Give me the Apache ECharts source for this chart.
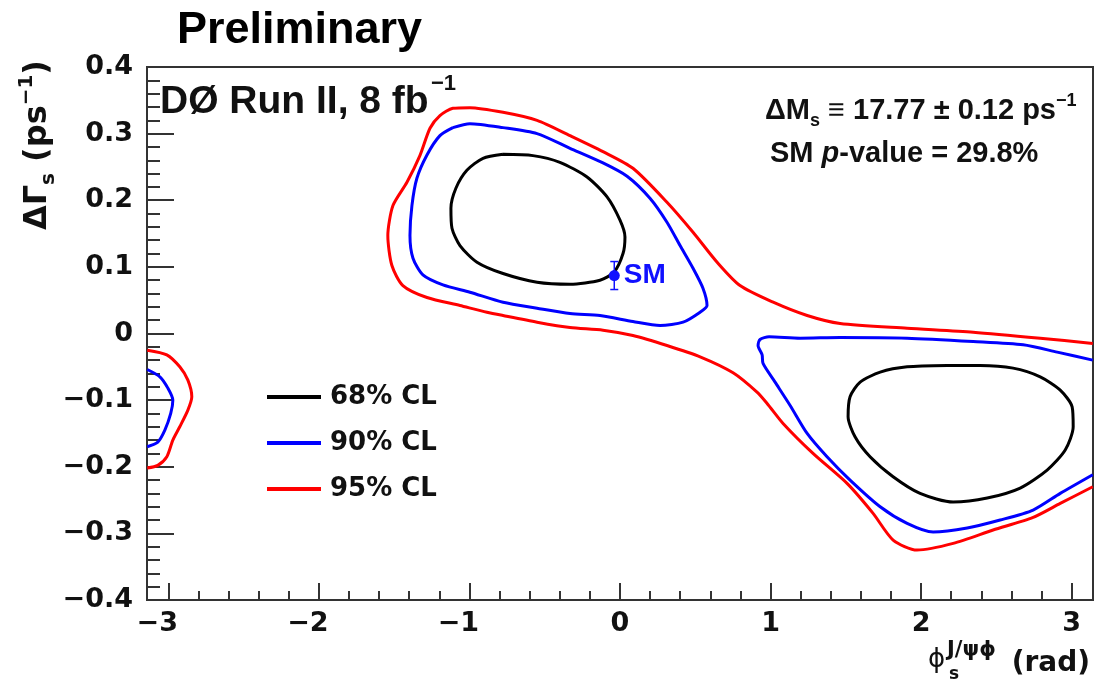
<!DOCTYPE html>
<html>
<head>
<meta charset="utf-8">
<script src="https://cdn.jsdelivr.net/npm/echarts@6/dist/echarts.min.js"></script>
<style>
  html, body { margin: 0; padding: 0; background: #ffffff; }
  #chart { width: 1094px; height: 681px; }
</style>
</head>
<body>
<div id="chart"></div>
<script>
// Confidence-level contours in the (phi_s, DeltaGamma_s) plane, points as [phi_s (rad), DeltaGamma_s (ps^-1)]
const cl68Left = [[-0.777,0.269],[-0.578,0.267],[-0.399,0.257],[-0.219,0.235],[-0.086,0.205],[0.000,0.170],[0.033,0.145],[0.020,0.120],[-0.040,0.092],[-0.133,0.080],[-0.332,0.074],[-0.551,0.077],[-0.777,0.090],[-0.950,0.107],[-1.063,0.132],[-1.116,0.158],[-1.123,0.188],[-1.090,0.218],[-1.017,0.245],[-0.910,0.263],[-0.777,0.269]];
const cl68Right = [[2.173,-0.048],[2.392,-0.048],[2.611,-0.052],[2.791,-0.065],[2.924,-0.085],[3.003,-0.110],[3.010,-0.140],[2.957,-0.175],[2.837,-0.205],[2.658,-0.232],[2.439,-0.247],[2.213,-0.253],[1.993,-0.240],[1.814,-0.215],[1.661,-0.185],[1.561,-0.155],[1.515,-0.125],[1.528,-0.095],[1.595,-0.073],[1.728,-0.058],[1.907,-0.050],[2.173,-0.048]];

const cl90Left = [[-1.110,0.309],[-0.997,0.315],[-0.777,0.309],[-0.551,0.300],[-0.332,0.278],[-0.113,0.256],[0.047,0.236],[0.199,0.203],[0.312,0.167],[0.399,0.132],[0.485,0.098],[0.551,0.068],[0.578,0.042],[0.532,0.032],[0.419,0.017],[0.266,0.012],[0.086,0.018],[-0.133,0.027],[-0.332,0.030],[-0.551,0.038],[-0.777,0.047],[-0.997,0.062],[-1.176,0.073],[-1.309,0.088],[-1.375,0.113],[-1.395,0.147],[-1.382,0.192],[-1.349,0.233],[-1.282,0.268],[-1.196,0.297],[-1.110,0.309]];
const cl90Right = [[3.140,-0.040],[2.904,-0.028],[2.678,-0.017],[2.346,-0.012],[1.907,-0.007],[1.462,-0.006],[1.196,-0.007],[0.990,-0.005],[0.930,-0.009],[0.917,-0.018],[0.944,-0.032],[0.950,-0.045],[1.030,-0.073],[1.130,-0.108],[1.243,-0.150],[1.375,-0.185],[1.528,-0.220],[1.728,-0.260],[1.907,-0.285],[2.080,-0.298],[2.306,-0.292],[2.525,-0.280],[2.744,-0.265],[2.924,-0.240],[3.140,-0.212]];
const cl90Edge = [[-3.140,-0.054],[-3.056,-0.065],[-3.003,-0.082],[-2.970,-0.100],[-2.984,-0.120],[-3.023,-0.145],[-3.070,-0.163],[-3.140,-0.170]];

const cl95Band = [[3.140,-0.015],[2.791,-0.007],[2.346,0.002],[1.907,0.008],[1.462,0.015],[1.243,0.027],[1.017,0.047],[0.797,0.072],[0.645,0.107],[0.485,0.152],[0.312,0.197],[0.086,0.248],[-0.113,0.273],[-0.332,0.297],[-0.551,0.320],[-0.777,0.332],[-0.997,0.339],[-1.110,0.338],[-1.196,0.327],[-1.262,0.308],[-1.329,0.267],[-1.415,0.227],[-1.508,0.192],[-1.542,0.147],[-1.515,0.102],[-1.442,0.072],[-1.282,0.054],[-1.063,0.042],[-0.884,0.032],[-0.777,0.027],[-0.551,0.017],[-0.332,0.009],[-0.113,0.005],[0.086,-0.003],[0.312,-0.018],[0.532,-0.035],[0.751,-0.059],[0.910,-0.088],[0.977,-0.105],[1.083,-0.135],[1.282,-0.180],[1.508,-0.225],[1.681,-0.270],[1.814,-0.310],[1.973,-0.325],[2.213,-0.315],[2.478,-0.295],[2.744,-0.276],[2.924,-0.255],[3.140,-0.230]];
const cl95Edge = [[-3.140,-0.025],[-3.010,-0.032],[-2.924,-0.050],[-2.870,-0.070],[-2.844,-0.095],[-2.870,-0.115],[-2.924,-0.140],[-2.970,-0.160],[-3.010,-0.185],[-3.070,-0.198],[-3.140,-0.202]];

// Standard Model expectation with its uncertainty on DeltaGamma_s
const smPhi = -0.038;
const smDGamma = 0.087;
const smDGammaErr = 0.021;

// Axis ticks and labels
const xMajorTicks = [-3, -2, -1, 0, 1, 2, 3];
const xMinorTicks = [-2.8, -2.6, -2.4, -2.2, -1.8, -1.6, -1.4, -1.2, -0.8, -0.6, -0.4, -0.2,
                     0.2, 0.4, 0.6, 0.8, 1.2, 1.4, 1.6, 1.8, 2.2, 2.4, 2.6, 2.8];
const levelNames = ['68% CL', '90% CL', '95% CL'];
const levelColors = ['#000000', '#0000ff', '#ff0000'];
const SM_COLOR = '#1010ff';

const TICK_FONT = '"DejaVu Sans"';
const TEXT_FONT = '"Liberation Sans", "DejaVu Sans"';
const AXIS_COLOR = '#333333';

function minusSign(s) { return s.replace('-', '\u2212'); }

function contour(name, color, pts, z) {
  return {
    type: 'line', name: name, data: pts, color: color,
    showSymbol: false, symbol: 'none', smooth: 0.25, z: z,
    lineStyle: { color: color, width: 3 },
    itemStyle: { color: color },
    silent: true, animation: false
  };
}

const chart = echarts.init(document.getElementById('chart'), null, { renderer: 'canvas' });

chart.setOption({
  backgroundColor: '#ffffff',
  animation: false,
  grid: {
    left: 147, top: 67, width: 946, height: 533,
    show: true, borderColor: AXIS_COLOR, borderWidth: 2, backgroundColor: 'transparent'
  },
  xAxis: [
    {
      type: 'value', min: -Math.PI, max: Math.PI, position: 'bottom',
      axisLine: { show: true, onZero: false, lineStyle: { color: AXIS_COLOR, width: 2 } },
      axisTick: { show: true, inside: true, length: 17, customValues: xMajorTicks,
                  lineStyle: { color: AXIS_COLOR, width: 2 } },
      axisLabel: {
        show: true, customValues: xMajorTicks, margin: 10,
        fontFamily: TICK_FONT, fontWeight: 'bold', fontSize: 27, color: '#111111',
        formatter: function (v) {
          const r = Math.round(v);
          return r < 0 ? '\u2212' + Math.abs(r) + '{sp|}' : String(r);
        },
        rich: { sp: { width: 22 } }
      },
      splitLine: { show: false }
    },
    {
      type: 'value', min: -Math.PI, max: Math.PI, position: 'bottom',
      axisLine: { show: false, onZero: false },
      axisTick: { show: true, inside: true, length: 9, customValues: xMinorTicks,
                  lineStyle: { color: AXIS_COLOR, width: 2 } },
      axisLabel: { show: false },
      splitLine: { show: false }
    }
  ],
  yAxis: {
    type: 'value', min: -0.4, max: 0.4, interval: 0.1,
    axisLine: { show: true, onZero: false, lineStyle: { color: AXIS_COLOR, width: 2 } },
    axisTick: { show: true, inside: true, length: 27, lineStyle: { color: AXIS_COLOR, width: 2 } },
    minorTick: { show: true, splitNumber: 5, length: 13, lineStyle: { color: AXIS_COLOR, width: 2 } },
    axisLabel: {
      margin: 14, fontFamily: TICK_FONT, fontWeight: 'bold', fontSize: 27, color: '#111111',
      formatter: function (v) {
        if (Math.abs(v) < 1e-9) return '0';
        return minusSign(v.toFixed(1));
      }
    },
    splitLine: { show: false },
    minorSplitLine: { show: false }
  },
  legend: {
    orient: 'vertical', left: 262, top: 379,
    data: levelNames,
    icon: 'rect', itemWidth: 54, itemHeight: 4, itemGap: 20,
    selectedMode: false,
    textStyle: { fontFamily: TICK_FONT, fontWeight: 'bold', fontSize: 26, lineHeight: 26,
                 color: '#111111', padding: [0, 0, 0, 4] }
  },
  graphic: [
    { type: 'text', x: 177, y: 31, z: 100,
      style: { text: 'Preliminary', font: 'bold 45px ' + TEXT_FONT, fill: '#000',
               align: 'left', verticalAlign: 'middle' } },
    { type: 'text', x: 160, y: 102, z: 100,
      style: { text: 'D\u00d8 Run II, 8 fb', font: 'bold 39px ' + TEXT_FONT, fill: '#111',
               align: 'left', verticalAlign: 'middle' } },
    { type: 'text', x: 431, y: 84, z: 100,
      style: { text: '\u22121', font: 'bold 22px ' + TEXT_FONT, fill: '#111',
               align: 'left', verticalAlign: 'middle' } },
    { type: 'text', x: 765, y: 111, z: 100,
      style: {
        text: '{m|\u0394M}{b|s}{m| \u2261 17.77 \u00b1 0.12 ps}{t|\u22121}',
        align: 'left', verticalAlign: 'middle',
        rich: {
          m: { font: 'bold 29px ' + TEXT_FONT, fill: '#111', lineHeight: 38, verticalAlign: 'middle' },
          b: { font: 'bold 18px ' + TEXT_FONT, fill: '#111', lineHeight: 20, verticalAlign: 'bottom' },
          t: { font: 'bold 18px ' + TEXT_FONT, fill: '#111', lineHeight: 20, verticalAlign: 'top' }
        }
      } },
    { type: 'text', x: 770, y: 154, z: 100,
      style: {
        text: '{m|SM }{i|p}{m|-value = 29.8%}',
        align: 'left', verticalAlign: 'middle',
        rich: {
          m: { font: 'bold 29px ' + TEXT_FONT, fill: '#111' },
          i: { font: 'italic bold 29px ' + TEXT_FONT, fill: '#111' }
        }
      } },
    // y-axis title, reading bottom to top
    { type: 'text', x: 38, y: 60, rotation: Math.PI / 2, z: 100,
      style: {
        text: '{m|\u0394\u0393}{b|s}{m| (ps}{t|\u22121}{m|)}',
        align: 'right', verticalAlign: 'middle',
        rich: {
          m: { font: 'bold 32px ' + TICK_FONT, fill: '#111', lineHeight: 42, verticalAlign: 'middle' },
          b: { font: 'bold 20px ' + TICK_FONT, fill: '#111', lineHeight: 22, verticalAlign: 'bottom' },
          t: { font: 'bold 20px ' + TICK_FONT, fill: '#111', lineHeight: 22, verticalAlign: 'top' }
        }
      } },
    // x-axis title
    { type: 'text', x: 928, y: 660, z: 100,
      style: { text: '\u03d5', font: '26px ' + TICK_FONT, fill: '#111', align: 'left', verticalAlign: 'middle' } },
    { type: 'text', x: 947, y: 651, z: 100,
      style: { text: 'J/\u03c8\u03d5', font: 'bold 21px ' + TICK_FONT, fill: '#111', align: 'left', verticalAlign: 'middle' } },
    { type: 'text', x: 949, y: 675, z: 100,
      style: { text: 's', font: 'bold 17px ' + TICK_FONT, fill: '#111', align: 'left', verticalAlign: 'middle' } },
    { type: 'text', x: 1090, y: 664, z: 100,
      style: { text: '(rad)', font: 'bold 28px ' + TICK_FONT, fill: '#111', align: 'right', verticalAlign: 'middle' } }
  ],
  series: [
    contour(levelNames[2], levelColors[2], cl95Band, 2),
    contour(levelNames[2], levelColors[2], cl95Edge, 2),
    contour(levelNames[1], levelColors[1], cl90Left, 3),
    contour(levelNames[1], levelColors[1], cl90Right, 3),
    contour(levelNames[1], levelColors[1], cl90Edge, 3),
    contour(levelNames[0], levelColors[0], cl68Left, 4),
    contour(levelNames[0], levelColors[0], cl68Right, 4),
    {
      type: 'custom', name: 'SM error', z: 5, silent: true, animation: false,
      data: [[smPhi, smDGamma - smDGammaErr, smDGamma + smDGammaErr]],
      renderItem: function (params, api) {
        const lo = api.coord([api.value(0), api.value(1)]);
        const hi = api.coord([api.value(0), api.value(2)]);
        const st = { stroke: SM_COLOR, lineWidth: 1.5 };
        return {
          type: 'group',
          children: [
            { type: 'line', shape: { x1: lo[0], y1: lo[1], x2: hi[0], y2: hi[1] }, style: st },
            { type: 'line', shape: { x1: lo[0] - 4, y1: lo[1], x2: lo[0] + 4, y2: lo[1] }, style: st },
            { type: 'line', shape: { x1: hi[0] - 4, y1: hi[1], x2: hi[0] + 4, y2: hi[1] }, style: st }
          ]
        };
      }
    },
    {
      type: 'scatter', name: 'SM', z: 6, silent: true, animation: false,
      data: [[smPhi, smDGamma]],
      symbol: 'circle', symbolSize: 11,
      itemStyle: { color: SM_COLOR, opacity: 1 },
      label: {
        show: true, position: 'right', distance: 4, formatter: 'SM', opacity: 1,
        fontFamily: TEXT_FONT, fontWeight: 'bold', fontSize: 28, color: SM_COLOR,
        textBorderWidth: 0
      }
    }
  ]
});
</script>
</body>
</html>
